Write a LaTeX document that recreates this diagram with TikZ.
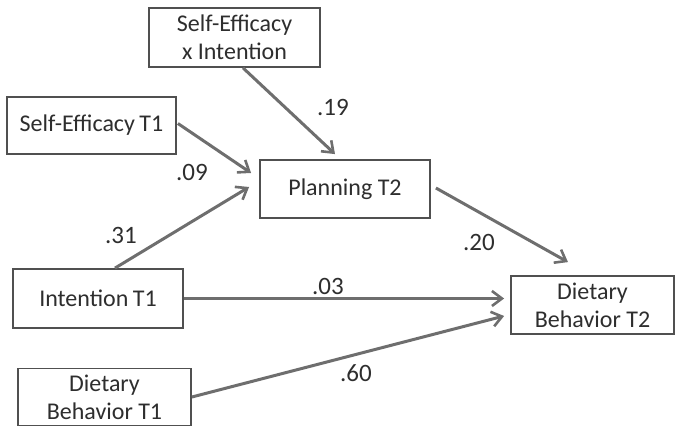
\documentclass[tikz,border=0pt]{standalone}
\usepackage{fontspec}
\setmainfont{Carlito}
\usetikzlibrary{arrows.meta,calc}
\definecolor{boxc}{HTML}{505050}
\definecolor{arrc}{HTML}{6E6E6E}
\definecolor{txtc}{HTML}{2E2E2E}
\begin{document}
\begin{tikzpicture}[x=1pt,y=-1pt,
  box/.style={draw=boxc,line width=1.8pt,fill=white,inner sep=0pt,align=center,text=txtc,font=\fontsize{24}{28}\selectfont},
  arr/.style={draw=arrc,line width=3pt,-{Straight Barb[length=10pt,width=15pt,line width=2.6pt]}},
  lab/.style={text=txtc,font=\fontsize{25}{28}\selectfont,inner sep=0pt}]
\useasboundingbox (0,0) rectangle (675,427);
\node[box,minimum width=171pt,minimum height=59pt] (sexi) at (234.5,37.5) {Self-Efficacy\\x Intention};
\node[box,minimum width=169pt,minimum height=57pt] (se1) at (91.5,125.5) {Self-Efficacy\kern-1pt\ T1};
\node[box,minimum width=170pt,minimum height=58pt] (plan) at (345,189) {Planning T2};
\node[box,minimum width=170pt,minimum height=59pt] (int1) at (98,298.5) {Intention\kern-1pt\ T1};
\node[box,minimum width=173pt,minimum height=57pt] (db1) at (104.5,397) {Dietary\\Behavior T1};
\node[box,minimum width=163pt,minimum height=58pt] (db2) at (592.5,305) {Dietary\\Behavior T2};
\draw[arr] ($(sexi.south)+(8.5,0)$) -- ($(plan.north)+(-10,-5)$);
\draw[arr] ($(se1.east)+(1,-2)$) -- ($(plan.west)+(-8,-16)$);
\draw[arr] ($(int1.north)+(17,0)$) -- ($(plan.west)+(-10,-2)$);
\draw[arr] ($(plan.east)+(5,-1)$) -- ($(db2.north)+(-24.5,-13)$);
\draw[arr] (int1.east) -- ($(db2.west)+(-6,-6.5)$);
\draw[arr] (db1.east) -- ($(db2.west)+(-6,11)$);
\node[lab] (l19) at (333,107) {.19};
\node[lab] (l09) at (192,172) {.09};
\node[lab] (l31) at (121,235) {.31};
\node[lab] (l20) at (479,242) {.20};
\node[lab] (l03) at (328,286) {.03};
\node[lab] (l60) at (356,373) {.60};
\end{tikzpicture}
\end{document}
